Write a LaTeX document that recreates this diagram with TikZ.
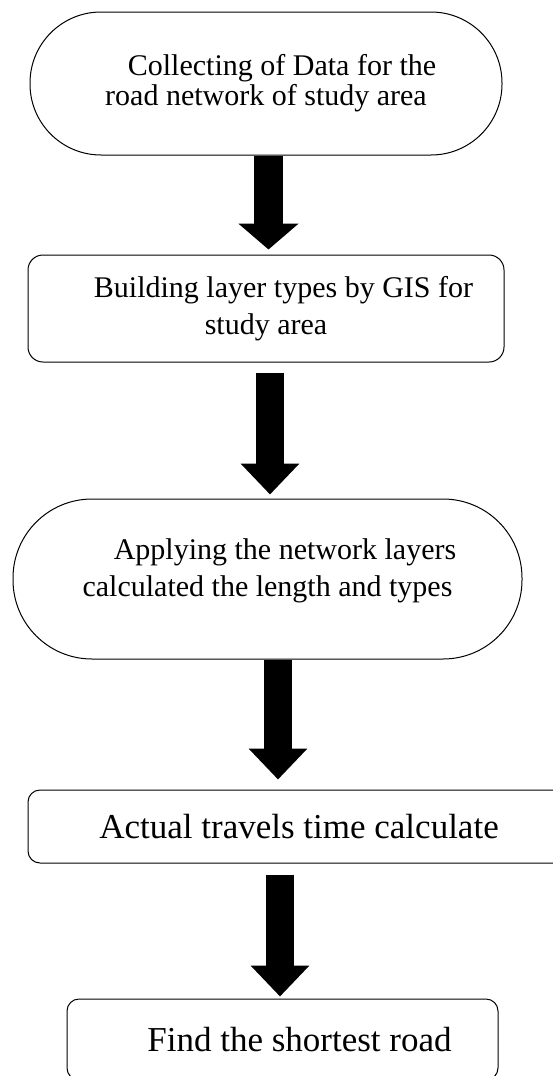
\documentclass[tikz,border=0pt]{standalone}
\usepackage{fontspec}
\setmainfont{Liberation Serif}
\usetikzlibrary{arrows.meta}
\tikzset{
    stepbox/.style = {draw, line width = 1pt, rectangle, align = center, inner sep = 0},
    bigfont/.style = {font = \fontsize{30}{37}\selectfont},
    hugefont/.style = {font = \fontsize{35}{42}\selectfont},
    blockarrow/.style = {line width = 28.5pt, -{Triangle[width = 57pt, length = 31pt]}},
}

\begin{document}
\begin{tikzpicture}[x = 1pt, y = 1pt]
    \useasboundingbox (0, 0) rectangle (553, -1076);

    \node [stepbox, bigfont, font = \fontsize{30}{30}\selectfont, minimum width = 472, minimum height = 143, rounded corners = 71pt]
        (collect) at (266, -83.5) {\hspace*{32pt}Collecting of Data for the\\road network of study area};
    \node [stepbox, bigfont, minimum width = 476, minimum height = 107, rounded corners = 15pt]
        (build) at (266, -308.5) {\hspace*{35pt}Building layer types by GIS for\\study area};
    \node [stepbox, bigfont, minimum width = 509, minimum height = 160, rounded corners = 79pt, text depth = 23pt]
        (apply) at (267.5, -579) {\hspace*{35pt}Applying the network layers\\calculated the length and types};
    \node [stepbox, hugefont, minimum width = 542, minimum height = 73, rounded corners = 12pt]
        (actual) at (299, -826.5) {Actual travels time calculate};
    \node [stepbox, hugefont, minimum width = 431, minimum height = 81, rounded corners = 12pt]
        (shortest) at (282.5, -1039.5) {\hspace*{34pt}Find the shortest road};

    % block arrows
    \draw [blockarrow, -{Triangle[width = 59pt, length = 26pt]}, shorten > = 5pt]
        ([xshift = 2.5]collect.south) -- ([xshift = 2.5]collect.south |- build.north);
    \draw [blockarrow, shorten < = 10pt, shorten > = 4pt]
        ([xshift = 4]build.south) -- ([xshift = 4]build.south |- apply.north);
    \draw [blockarrow, shorten > = 10pt]
        ([xshift = 10.5]apply.south) -- ([xshift = 10.5]apply.south |- actual.north);
    \draw [blockarrow, shorten < = 11pt, shorten > = 2pt]
        ([xshift = -19]actual.south) -- ([xshift = -19]actual.south |- shortest.north);
\end{tikzpicture}
\end{document}
